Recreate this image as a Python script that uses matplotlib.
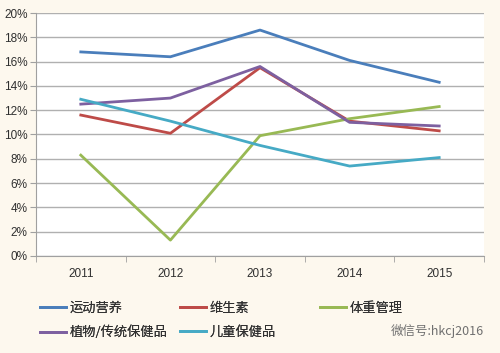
import matplotlib
matplotlib.use("Agg")
import matplotlib.pyplot as plt
from matplotlib.ticker import FuncFormatter, MultipleLocator, FixedLocator

plt.rcParams['font.family'] = ['Liberation Sans', 'Noto Sans CJK SC', 'DejaVu Sans']

years = ['2011', '2012', '2013', '2014', '2015']
sport = [16.8, 16.4, 18.6, 16.1, 14.3]
vitamin = [11.6, 10.1, 15.5, 11.1, 10.3]
weight = [8.3, 1.3, 9.9, 11.3, 12.3]
herbal = [12.5, 13.0, 15.6, 11.0, 10.7]
children = [12.9, 11.1, 9.1, 7.4, 8.1]

names = ['运动营养', '维生素', '体重管理', '植物/传统保健品', '儿童保健品']
colors = ['#4a7ebb', '#be4b48', '#98b954', '#7d60a0', '#46aac5']
series = [sport, vitamin, weight, herbal, children]

bg = '#fdf8ee'
fig = plt.figure(figsize=(5.0, 3.53), dpi=100, facecolor=bg)
ax = fig.add_axes([0.072, 0.275, 0.896, 0.688])
ax.set_facecolor('white')

x = range(len(years))
lines = []
for vals, name, c in zip(series, names, colors):
    ln, = ax.plot(x, vals, color=c, lw=2.0, label=name)
    lines.append(ln)

ax.set_xlim(-0.5, len(years) - 0.5)
ax.set_ylim(0, 20)
ax.yaxis.set_major_locator(MultipleLocator(2))
ax.yaxis.set_major_formatter(FuncFormatter(lambda v, p: '%d%%' % v))
ax.grid(axis='y', color='#b0b0b0', lw=1.0)
ax.set_axisbelow(True)

ax.set_xticks(list(x))
ax.set_xticklabels(years)
ax.xaxis.set_minor_locator(FixedLocator([i - 0.5 for i in range(len(years) + 1)]))
ax.tick_params(axis='x', which='major', length=0, pad=9, labelsize=8.5)
ax.tick_params(axis='x', which='minor', length=4, color='#a0a0a0')
ax.tick_params(axis='y', length=4, color='#a0a0a0', labelsize=8.5, pad=2)
for lab in ax.get_xticklabels() + ax.get_yticklabels():
    lab.set_color('#303030')

for s in ['top', 'right']:
    ax.spines[s].set_visible(False)
ax.spines['left'].set_color('#a0a0a0')
ax.spines['bottom'].set_color('#a0a0a0')

# legend laid out row by row like the original: three columns placed separately
cols = [[0, 3], [1, 4], [2]]
col_x = [0.074, 0.354, 0.634]
for idx, cx in zip(cols, col_x):
    leg = fig.legend(handles=[lines[i] for i in idx], loc='upper left',
                     bbox_to_anchor=(cx, 0.153), frameon=False,
                     handlelength=2.0, handletextpad=0.3, labelspacing=0.85,
                     borderpad=0.2, borderaxespad=0,
                     prop={'family': ['Noto Sans CJK SC', 'DejaVu Sans'], 'size': 9.5})
    for t in leg.get_texts():
        t.set_color('#303030')
    fig.add_artist(leg)

fig.text(0.782, 0.062, '微信号:hkcj2016', fontsize=9, color='#707070',
         family=['Noto Sans CJK SC', 'DejaVu Sans'], va='center')

fig.savefig('out.png', dpi=100, facecolor=bg)
